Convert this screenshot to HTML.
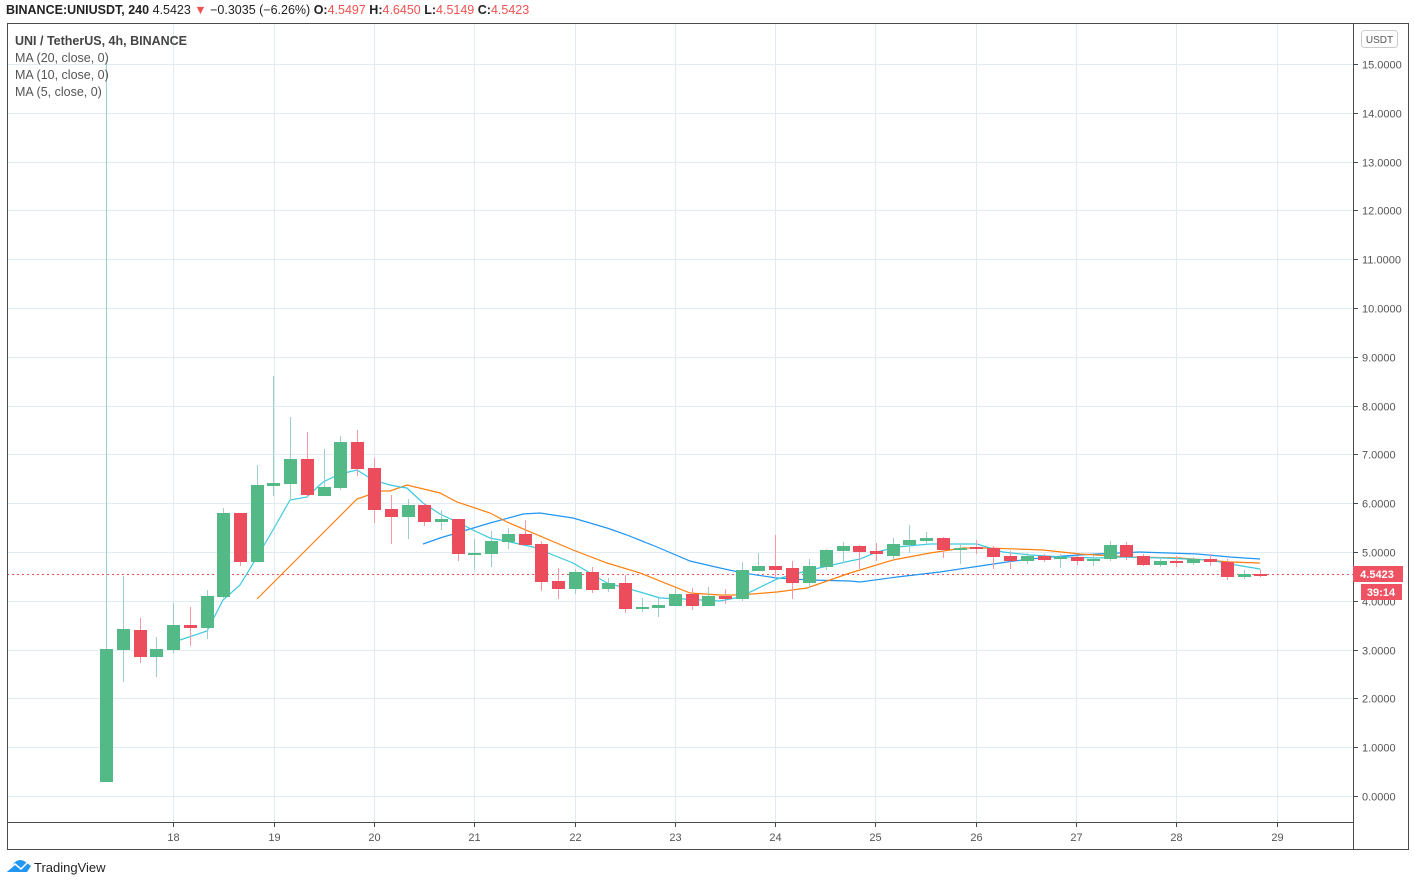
<!DOCTYPE html>
<html><head><meta charset="utf-8"><style>
body{margin:0;background:#fff;width:1414px;height:888px;overflow:hidden;font-family:"Liberation Sans",sans-serif}
svg text{font-family:"Liberation Sans",sans-serif}
</style></head><body>
<svg id="s" width="1414" height="888" xmlns="http://www.w3.org/2000/svg">
<rect x="0" y="0" width="1414" height="888" fill="#fff"/>
<g id="grid" stroke="#e1ecf2" stroke-width="1"></g>
<line x1="7" y1="574.5" x2="1353" y2="574.5" stroke="#ef5350" stroke-width="1" stroke-dasharray="2,3"/>
<g id="ma"></g>
<g id="cdl"></g>
<rect x="7.5" y="23.5" width="1401" height="826" fill="none" stroke="#4a4a4a"/>
<line x1="1353.5" y1="23" x2="1353.5" y2="849" stroke="#4a4a4a"/>
<line x1="7" y1="822.5" x2="1353" y2="822.5" stroke="#4a4a4a"/>
<g id="axes" font-size="11" fill="#555"></g>
<rect x="1361.5" y="30.5" width="36" height="17" rx="3" fill="#fff" stroke="#ccc"/>
<text x="1379.5" y="43" font-size="10" fill="#555" text-anchor="middle">USDT</text>
<rect x="1353" y="566" width="50" height="16" fill="#ef5363"/>
<text x="1377" y="578" font-size="11" fill="#fff" text-anchor="middle" font-weight="bold">4.5423</text>
<rect x="1361" y="584" width="41" height="16" fill="#ef5363"/>
<text x="1381" y="596" font-size="11" fill="#fff" text-anchor="middle" font-weight="bold">39:14</text>
<text x="6" y="14" font-size="12.5" fill="#222"><tspan font-weight="bold">BINANCE:UNIUSDT, 240</tspan> 4.5423 <tspan fill="#ef5350">▼</tspan> −0.3035 (−6.26%) <tspan font-weight="bold">O:</tspan><tspan fill="#ef5350">4.5497</tspan> <tspan font-weight="bold">H:</tspan><tspan fill="#ef5350">4.6450</tspan> <tspan font-weight="bold">L:</tspan><tspan fill="#ef5350">4.5149</tspan> <tspan font-weight="bold">C:</tspan><tspan fill="#ef5350">4.5423</tspan></text>
<text x="15" y="45" font-size="12.5" fill="#444" font-weight="bold">UNI / TetherUS, 4h, BINANCE</text>
<text x="15" y="62" font-size="12.5" fill="#555">MA (20, close, 0)</text>
<text x="15" y="79" font-size="12.5" fill="#555">MA (10, close, 0)</text>
<text x="15" y="96" font-size="12.5" fill="#555">MA (5, close, 0)</text>
<path d="M7 872 L14 863 Q20 857 27 863 L31 866 L27 872 Z" fill="#2196f3"/>
<polyline points="8,870 15,864 21,869 27,863" fill="none" stroke="#fff" stroke-width="1.5"/>
<text x="34" y="872" font-size="13" fill="#222">TradingView</text>
</svg>
<script>
var NS="http://www.w3.org/2000/svg";
function el(p,t,a,txt){var e=document.createElementNS(NS,t);for(var k in a)e.setAttribute(k,a[k]);if(txt!=null)e.textContent=txt;document.getElementById(p).appendChild(e);}
for(var k=0;k<=15;k++){var y=Math.round(796-k*48.8)+.5;el('grid','line',{x1:8,y1:y,x2:1353,y2:y});
 el('axes','line',{x1:1353,y1:y,x2:1358,y2:y,stroke:'#4a4a4a'});
 el('axes','text',{x:1362,y:y+4},k.toFixed(4));}
var days=[18,19,20,21,22,23,24,25,26,27,28,29];
days.forEach(function(d,i){var x=Math.round(173.3+i*100.3)+.5;el('grid','line',{x1:x,y1:24,x2:x,y2:822});
 el('axes','line',{x1:x,y1:822,x2:x,y2:827,stroke:'#4a4a4a'});
 el('axes','text',{x:x,y:841,'text-anchor':'middle'},d);});
var C=[
[106,'g',649,782,60,782],[123,'g',629,650,576,682],[140,'r',630,657,618,663],[156,'g',649,657,637,677],[173,'g',625,650,603,653],
[190,'r',625,628,607,646],[207,'g',596,628,590,639],[223,'g',513,597,508,598],[240,'r',513,562,513,566],[257,'g',485,562,465,562],
[273,'g',483,486,376,496],[290,'g',459,484,417,500],[307,'r',459,495,432,497],[324,'g',487,496,449,496],[340,'g',442,488,436,490],
[357,'r',442,469,430,476],[374,'r',468,510,458,523],[391,'r',509,517,495,544],[408,'g',505,517,499,539],[424,'r',505,522,503,526],
[441,'g',519,522,510,530],[458,'r',519,554,519,561],[474,'g',553,554,539,570],[491,'g',541,554,531,567],[508,'g',534,542,528,549],
[525,'r',534,545,520,545],[541,'r',544,582,541,591],[558,'r',581,589,568,599],[575,'g',572,589,569,594],[592,'r',572,590,567,593],
[608,'g',583,589,578,592],[625,'r',583,609,575,613],[642,'g',607,609,598,612],[658,'g',605,608,598,617],[675,'g',594,606,588,606],
[692,'r',594,606,588,610],[708,'g',596,606,587,606],[725,'r',596,599,589,604],[742,'g',570,599,562,601],[758,'g',566,571,553,571],
[775,'r',566,570,535,578],[792,'r',568,583,561,599],[809,'g',566,583,559,588],[826,'g',550,567,549,570],[843,'g',546,551,542,563],
[859,'r',546,552,545,569],[876,'r',551,554,543,561],[893,'g',544,556,538,560],[909,'g',540,545,525,553],[926,'g',538,541,532,545],
[943,'r',538,550,537,558],[960,'g',548,549,543,564],[976,'r',547,549,540,554],[993,'r',548,557,546,569],[1010,'r',556,561,551,569],
[1027,'g',556,561,553,564],[1044,'r',556,560,554,562],[1060,'g',557,558,554,568],[1077,'r',557,561,556,565],[1093,'g',559,561,555,566],
[1110,'g',545,559,541,561],[1126,'r',545,557,542,560],[1143,'r',556,565,554,566],[1160,'g',561,565,559,567],[1176,'r',561,563,556,567],
[1193,'g',559,563,557,565],[1210,'r',559,562,554,566],[1227,'r',562,577,559,580],[1244,'g',574,577,570,579],[1260,'r',574,575,569,577]];
C.forEach(function(c){var col=c[1]=='g'?'#53b987':'#eb4d5c',wc=c[1]=='g'?'#9fcdca':'#f39aa4';
 el('cdl','line',{x1:c[0]+.5,y1:c[4],x2:c[0]+.5,y2:c[5],stroke:wc,'stroke-width':1});
 var h=Math.max(c[3]-c[2],2);el('cdl','rect',{x:c[0]-6,y:c[2],width:13,height:h,fill:col});});
var ma5="180,640 207,631 223,600 240,585 257,557 273,530 290,500 307,497 323,482 340,474 357,470 373,480 390,485 400,487 407,488 423,503 440,514 457,522 473,530 490,538 510,542 533,547 573,563 607,583 640,592 660,598 683,599 720,601 740,597 777,579 810,570 850,561 860,559 877,552 897,547 930,544 977,544 1003,552 1030,555 1063,557 1097,558 1120,557 1163,558 1210,560 1230,564 1260,569";
var ma10="257,599 323,533 357,499 380,491 390,491 407,485 440,493 457,502 490,513 507,522 573,550 607,563 640,573 690,593 720,595 740,595 777,592 807,588 850,573 860,570 893,560 930,553 963,548 987,548 1043,550 1080,554 1130,557 1180,558 1230,562 1260,563";
var ma20="423,544 440,538 490,523 523,514 540,513 573,518 607,528 627,535 657,547 690,561 720,568 743,573 777,578 810,580 850,581 860,582 897,577 940,572 980,566 1007,562 1030,559 1063,556 1097,554 1140,552 1197,554 1230,557 1260,559";
el('ma','polyline',{points:ma20,fill:'none',stroke:'#2196f3','stroke-width':1.2});
el('ma','polyline',{points:ma10,fill:'none',stroke:'#ff7f0e','stroke-width':1.2});
el('ma','polyline',{points:ma5,fill:'none',stroke:'#3bc9e0','stroke-width':1.2});
</script>
</body></html>
